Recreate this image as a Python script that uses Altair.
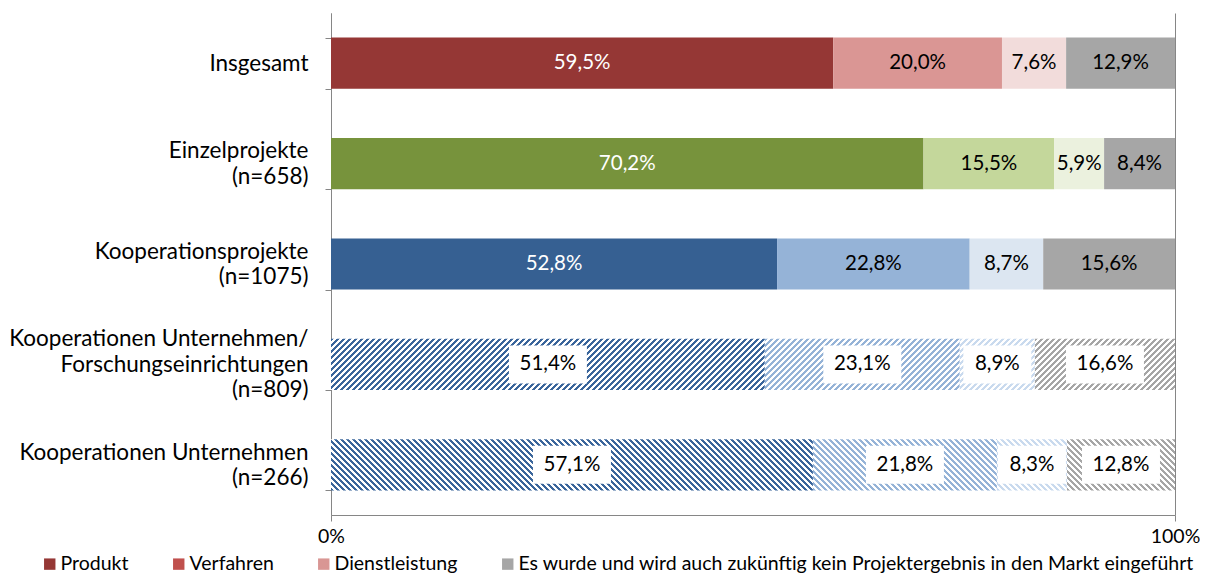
import math
import altair as alt

# ---------------- data ----------------
categories = [
    "Insgesamt",
    "Einzelprojekte\n(n=658)",
    "Kooperationsprojekte\n(n=1075)",
    "Kooperationen Unternehmen/\nForschungseinrichtungen\n(n=809)",
    "Kooperationen Unternehmen\n(n=266)",
]
series = [
    "Produkt",
    "Verfahren",
    "Dienstleistung",
    "Es wurde und wird auch zukünftig kein Projektergebnis in den Markt eingeführt",
]
produkt = [59.5, 70.2, 52.8, 51.4, 57.1]
verfahren = [20.0, 15.5, 22.8, 23.1, 21.8]
dienstleistung = [7.6, 5.9, 8.7, 8.9, 8.3]
kein = [12.9, 8.4, 15.6, 16.6, 12.8]

# ---------------- styles ----------------
row_colors = [
    ["#953735", "#DA9694", "#F2DCDB", "#A6A6A6"],
    ["#77933C", "#C4D79B", "#EBF1DE", "#A6A6A6"],
    ["#366092", "#95B3D7", "#DCE6F1", "#A6A6A6"],
    ["#3A659B", "#95B3D7", "#C9DAEE", "#A6A6A6"],
    ["#3A659B", "#95B3D7", "#C9DAEE", "#A6A6A6"],
]
row_hatch = ["none", "none", "none", "/", "\\"]
legend_colors = ["#953735", "#C0504D", "#D99694", "#A6A6A6"]

FONT = "Lato"
PLOT_W = 844
PLOT_H = 502
PAD_INNER = 0.49
BAR_H = PLOT_H / len(categories) * (1 - PAD_INNER)
GREY = "#868686"
LINE_H = 25.5


def stripe_gradient(color, w, h, direction, period=6.0, duty=0.5, bg="#FFFFFF"):
    L = w + h
    den = w * w + h * h
    a = w * L / den
    b = h * L / den
    if direction == "/":
        x1, y1, x2, y2 = 0, 0, a, b
    else:
        x1, y1, x2, y2 = 0, 1, a, 1 - b
    dt = period / L
    n = int(math.ceil(L / period))
    stops = []
    for k in range(n):
        t0 = min(k * dt, 1.0)
        t1 = min((k + duty) * dt, 1.0)
        t2 = min((k + 1) * dt, 1.0)
        stops += [
            {"offset": t0, "color": color},
            {"offset": t1, "color": color},
            {"offset": t1, "color": bg},
            {"offset": t2, "color": bg},
        ]
    return {"gradient": "linear", "x1": x1, "y1": y1, "x2": x2, "y2": y2, "stops": stops}


records = []
for i, cat in enumerate(categories):
    vals = [produkt[i], verfahren[i], dienstleistung[i], kein[i]]
    total = sum(vals)
    for j, v in enumerate(vals):
        col = row_colors[i][j]
        if row_hatch[i] == "none":
            fill = col
            tc = "white" if j == 0 else "black"
        else:
            fill = stripe_gradient(col, v / total * PLOT_W, BAR_H, row_hatch[i])
            tc = "black"
        records.append({
            "cat": cat, "serie": series[j], "order": j, "value": v,
            "fill": fill, "tc": tc, "hatched": row_hatch[i] != "none",
        })

base = alt.Chart(alt.Data(values=records)).transform_joinaggregate(
    total="sum(value)", groupby=["cat"]
).transform_window(
    cum="sum(value)", groupby=["cat"], sort=[alt.SortField("order")], frame=[None, 0]
).transform_calculate(
    x0="(datum.cum - datum.value) / datum.total",
    x1="datum.cum / datum.total",
    mid="(datum.cum - datum.value / 2) / datum.total",
    label="replace(format(datum.value, '.1f'), '.', ',') + '%'",
)

nlines = "(datum.value ? length(split(datum.value, '\\n')) : 1)"
y_enc = alt.Y(
    "cat:N",
    sort=categories,
    scale=alt.Scale(domain=categories, paddingInner=PAD_INNER, paddingOuter=PAD_INNER / 2),
    axis=alt.Axis(
        title=None,
        labelExpr="datum.value ? split(datum.value, '\\n') : ''",
        labelFont=FONT, labelFontSize=22.5, labelLineHeight=LINE_H, labelColor="black",
        labelPadding=17, labelLimit=0, tickSize=6, tickBand="extent",
        labelOffset={
            "condition": [
                {"test": nlines + " == 3", "value": -LINE_H},
                {"test": nlines + " == 2", "value": -LINE_H / 2},
            ],
            "value": 0,
        },
        domainColor=GREY, tickColor=GREY, grid=False,
    ),
)

x_scale = alt.Scale(domain=[0, 1], nice=False, zero=True)

bars = base.mark_bar(strokeWidth=0).encode(
    y=y_enc,
    x=alt.X(
        "x0:Q", scale=x_scale,
        axis=alt.Axis(
            title=None, values=[0, 1], format=".0%", grid=True, gridColor=GREY,
            domainColor=GREY, tickColor=GREY, tickSize=6, labelFlush=False,
            labelFont=FONT, labelFontSize=19.5, labelColor="black", labelPadding=6,
        ),
    ),
    x2="x1:Q",
    fill=alt.Fill("fill:N", scale=None),
)

boxes_wide = base.transform_filter(
    "datum.hatched && length(datum.label) >= 5"
).mark_point(
    filled=True, opacity=1, color="white", strokeWidth=0,
    shape="M-1,-0.4872H1V0.4872H-1Z", size=78 * 78,
).encode(y=alt.Y("cat:N", sort=categories), x="mid:Q")

boxes_narrow = base.transform_filter(
    "datum.hatched && length(datum.label) < 5"
).mark_point(
    filled=True, opacity=1, color="white", strokeWidth=0,
    shape="M-1,-0.5588H1V0.5588H-1Z", size=68 * 68,
).encode(y=alt.Y("cat:N", sort=categories), x="mid:Q")

texts = base.mark_text(font=FONT, fontSize=20.5, baseline="middle", align="center").encode(
    y=alt.Y("cat:N", sort=categories),
    x="mid:Q",
    text="label:N",
    color=alt.Color("tc:N", scale=None),
)

legend_layer = alt.Chart(
    alt.Data(values=[{"serie": s, "cat": categories[0], "z": 0} for s in series])
).mark_bar(opacity=0).encode(
    y=alt.Y("cat:N", sort=categories),
    x="z:Q",
    x2="z:Q",
    color=alt.Color(
        "serie:N",
        scale=alt.Scale(domain=series, range=legend_colors),
        sort=series,
        legend=alt.Legend(
            orient="none", legendX=-291, legendY=541, direction="horizontal",
            title=None, labelFont=FONT, labelFontSize=19.5, labelColor="black",
            symbolType="square", symbolSize=130, symbolOpacity=1, symbolStrokeWidth=0,
            columnPadding=40, labelOffset=1, labelLimit=0,
        ),
    ),
)

chart = alt.layer(bars, boxes_wide, boxes_narrow, texts, legend_layer).properties(
    width=PLOT_W,
    height=PLOT_H,
    autosize=alt.AutoSizeParams(type="none"),
    padding={"left": 323, "top": 5, "right": 25, "bottom": 61},
).configure_view(stroke=None)

chart.save("out.html", embed_options={"renderer": "svg", "actions": False})
